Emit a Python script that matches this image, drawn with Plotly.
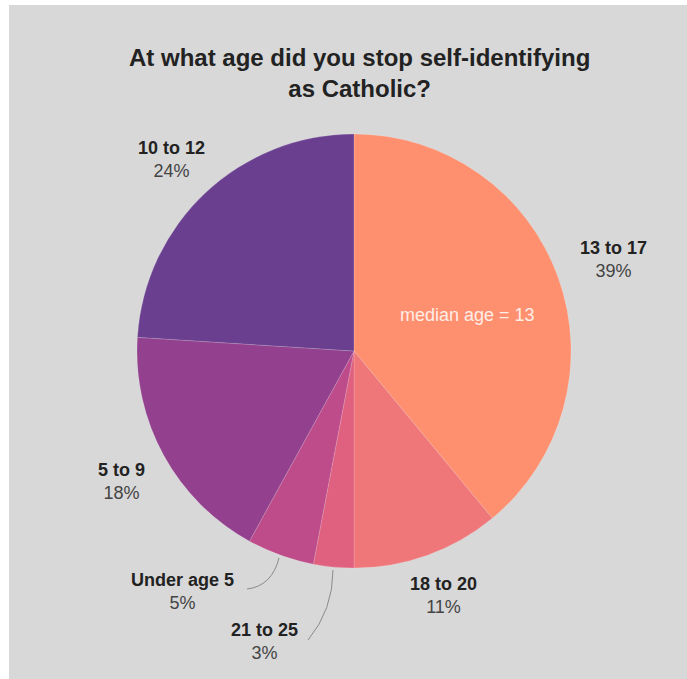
import plotly.graph_objects as go

W, H = 687, 679

categories = ["13 to 17", "18 to 20", "21 to 25", "Under age 5", "5 to 9", "10 to 12"]
values = [39, 11, 3, 5, 18, 24]
pct_labels = ["39%", "11%", "3%", "5%", "18%", "24%"]
colors = ["#FE9070", "#F07779", "#E0617F", "#BF4C8A", "#93408E", "#6A3F90"]

# label centres (pixels) for the outside labels
label_px = {
    "13 to 17": (613, 259),
    "18 to 20": (443, 595),
    "21 to 25": (264, 641),
    "Under age 5": (182, 591),
    "5 to 9": (121, 481),
    "10 to 12": (171, 159),
}

def px(x):
    return x / W

def py(y):
    return 1 - y / H

cx, cy, r = 354, 351, 217

fig = go.Figure(go.Pie(
    labels=categories,
    values=values,
    sort=False,
    direction="clockwise",
    rotation=0,
    textinfo="none",
    hoverinfo="label+percent",
    marker=dict(colors=colors, line=dict(color="rgba(255,255,255,0.15)", width=1)),
    domain=dict(x=[px(cx - r), px(cx + r)], y=[py(cy + r), py(cy - r)]),
    showlegend=False,
))

annotations = []
for cat, pct in zip(categories, pct_labels):
    x, y = label_px[cat]
    annotations.append(dict(
        x=px(x), y=py(y), xref="paper", yref="paper",
        xanchor="center", yanchor="middle", showarrow=False,
        text=f"<b><span style='color:#222222'>{cat}</span></b><br><span style='color:#444444'>{pct}</span>",
        font=dict(family="Liberation Sans, Arial, sans-serif", size=18),
        align="center",
    ))

annotations.append(dict(
    x=px(467), y=py(315), xref="paper", yref="paper",
    xanchor="center", yanchor="middle", showarrow=False,
    text="median age = 13",
    font=dict(family="Liberation Sans, Arial, sans-serif", size=18, color="#FFEDE6"),
))

annotations.append(dict(
    x=px(359), y=py(73), xref="paper", yref="paper",
    xanchor="center", yanchor="middle", showarrow=False,
    text="<b>At what age did you stop self-identifying<br>as Catholic?</b>",
    font=dict(family="Liberation Sans, Arial, sans-serif", size=24, color="#222222"),
    align="center",
))

def qpath(p0, c, p1):
    return (f"M {px(p0[0])},{py(p0[1])} Q {px(c[0])},{py(c[1])} {px(p1[0])},{py(p1[1])}")

shapes = [
    dict(type="path", xref="paper", yref="paper",
         path=qpath((279, 558), (272, 586), (247, 589)),
         line=dict(color="#8a8a8a", width=1)),
    dict(type="path", xref="paper", yref="paper",
         path=qpath((333, 570), (333, 610), (308, 640)),
         line=dict(color="#8a8a8a", width=1)),
    # white page border strips
    dict(type="rect", xref="paper", yref="paper", x0=0, x1=px(9), y0=0, y1=1,
         fillcolor="white", line=dict(width=0), layer="above"),
    dict(type="rect", xref="paper", yref="paper", x0=0, x1=1, y0=py(5), y1=1,
         fillcolor="white", line=dict(width=0), layer="above"),
]

fig.update_layout(
    width=W, height=H,
    margin=dict(l=0, r=0, t=0, b=0),
    paper_bgcolor="#D8D8D8",
    plot_bgcolor="#D8D8D8",
    annotations=annotations,
    shapes=shapes,
)

fig.write_html("out.html")
